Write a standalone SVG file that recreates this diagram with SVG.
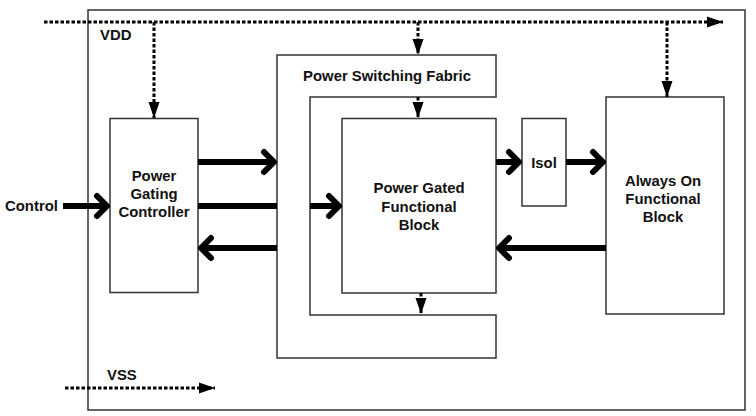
<svg xmlns="http://www.w3.org/2000/svg" width="756" height="416" viewBox="0 0 756 416">
<defs>
<style>
.box{fill:#fff;stroke:#333;stroke-width:1.5}
.frame{fill:none;stroke:#333;stroke-width:1.5}
.t{font-family:"Liberation Sans",Arial,sans-serif;font-weight:bold;font-size:14.9px;fill:#111;text-anchor:middle}
.ts{font-family:"Liberation Sans",Arial,sans-serif;font-weight:bold;font-size:14.9px;fill:#111;text-anchor:start}
.thick{fill:none;stroke:#000;stroke-width:6}
.dash{fill:none;stroke:#000;stroke-width:3;stroke-dasharray:3.5 2}
</style>
<marker id="chev" markerUnits="userSpaceOnUse" markerWidth="30" markerHeight="30" refX="15" refY="15" orient="auto" overflow="visible">
<path d="M5,5 L15,15 L5,25" fill="none" stroke="#000" stroke-width="6" stroke-linecap="round" stroke-linejoin="round"/>
</marker>
<marker id="tri" markerUnits="userSpaceOnUse" markerWidth="16" markerHeight="12" refX="16" refY="5.5" orient="auto" overflow="visible">
<path d="M0,0 L16,5.5 L0,11 z" fill="#000"/>
</marker>
</defs>
<g id="chip">
<rect class="frame" x="88" y="10" width="657" height="400"/>
<text class="ts" x="100" y="40">VDD</text>
<text class="ts" x="107" y="380">VSS</text>
<text class="ts" x="5" y="211">Control</text>
</g>
<g id="pgc">
<rect class="box" x="110" y="118.5" width="88" height="174"/>
<text class="t" x="154" y="181">Power</text>
<text class="t" x="154" y="199">Gating</text>
<text class="t" x="154" y="217">Controller</text>
</g>
<g id="psf">
<path class="box" d="M277,55 H496 V97 H310 V315 H496 V358 H277 Z"/>
<text class="t" x="387" y="81">Power Switching Fabric</text>
</g>
<g id="pgfb">
<rect class="box" x="342" y="118.5" width="154" height="174.5"/>
<text class="t" x="419" y="193">Power Gated</text>
<text class="t" x="419" y="212">Functional</text>
<text class="t" x="419" y="230">Block</text>
</g>
<g id="isol">
<rect class="box" x="522" y="118.5" width="44" height="87.5"/>
<text class="t" x="544" y="168">Isol</text>
</g>
<g id="aob">
<rect class="box" x="606" y="97" width="118" height="217"/>
<text class="t" x="663" y="186">Always On</text>
<text class="t" x="663" y="204">Functional</text>
<text class="t" x="663" y="222">Block</text>
</g>
<g id="connectors">
<path class="dash" d="M44,22 H723" marker-end="url(#tri)"/>
<path class="dash" d="M154,22 V118" marker-end="url(#tri)"/>
<path class="dash" d="M418,22 V55" marker-end="url(#tri)"/>
<path class="dash" d="M667,22 V97" marker-end="url(#tri)"/>
<path class="dash" d="M418,97 V118" marker-end="url(#tri)"/>
<path class="dash" d="M421,293 V314" marker-end="url(#tri)"/>
<path class="dash" d="M65,388 H215" marker-end="url(#tri)"/>
<path class="thick" d="M63,206 H107" marker-end="url(#chev)"/>
<path class="thick" d="M198,162 H274" marker-end="url(#chev)"/>
<path class="thick" d="M198,206 H277 M310,206 H339" marker-end="url(#chev)"/>
<path class="thick" d="M277,248 H201" marker-end="url(#chev)"/>
<path class="thick" d="M496,162 H519" marker-end="url(#chev)"/>
<path class="thick" d="M566,162 H603" marker-end="url(#chev)"/>
<path class="thick" d="M606,248 H499" marker-end="url(#chev)"/>
</g>
</svg>
